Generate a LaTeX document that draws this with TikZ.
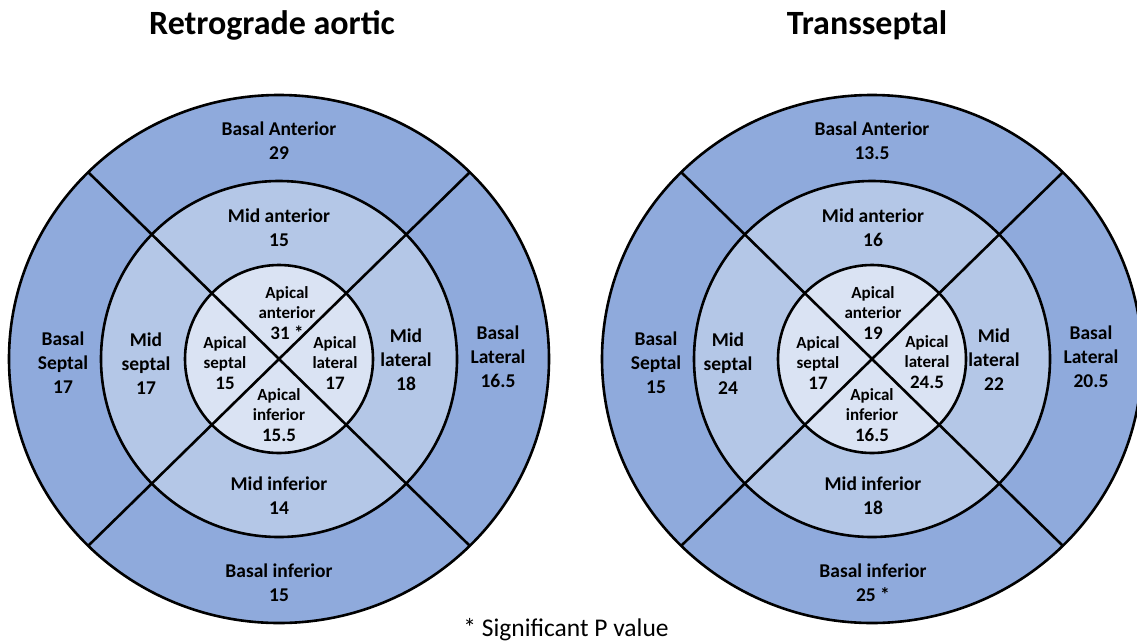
\documentclass[tikz,border=0pt]{standalone}
\usepackage{fontspec}
\usetikzlibrary{calc}
\setmainfont{Carlito}
\definecolor{ringout}{HTML}{8FAADC}
\definecolor{ringmid}{HTML}{B4C7E7}
\definecolor{ringin}{HTML}{DAE3F3}
\newcommand{\apnum}[1]{{\fontsize{19}{20.5}\selectfont #1}}
\begin{document}
\begin{tikzpicture}[x=1pt,y=-1pt,
  seg/.style={font=\bfseries\fontsize{19.5}{24}\selectfont, align=center, inner sep=0pt},
  apx/.style={font=\bfseries\fontsize{17}{20.5}\selectfont, align=center, inner sep=0pt},
  ttl/.style={font=\bfseries\fontsize{34}{38}\selectfont, inner sep=0pt},
  note/.style={font=\fontsize{25.5}{28}\selectfont, inner sep=0pt},
  ring/.style={draw=black, line width=2.6pt},
  divider/.style={draw=black, line width=2.6pt}]
\clip (0,0) rectangle (1137,643);
\fill[white] (0,0) rectangle (1137,643);

% ---------- left bullseye ----------
\coordinate (Lc) at (279,359);
\filldraw[ring, fill=ringout] (Lc) ellipse [x radius=270pt, y radius=264pt];
\filldraw[ring, fill=ringmid] (Lc) circle [radius=178pt];
\filldraw[ring, fill=ringin] (Lc) circle [radius=94pt];
\coordinate (Lul) at ($(Lc)+(-191,-187)$);
\coordinate (Lur) at ($(Lc)+(191,-187)$);
\coordinate (Lll) at ($(Lc)+(-191,187)$);
\coordinate (Llr) at ($(Lc)+(191,187)$);
\draw[divider] (Lul) -- (Llr);
\draw[divider] (Lur) -- (Lll);

\node[ttl] (Lttl) at (272,25) {Retrograde aortic};
\node[seg] (LbA) at (279,141) {Basal Anterior\\29};
\node[seg] (LmA) at (279,228) {Mid anterior\\15};
\node[apx] (LaA) at (287,313) {Apical\\anterior\\\apnum{31 *}};
\node[apx] (LaS) at (225,363) {Apical\\septal\\\apnum{15}};
\node[apx] (LaL) at (335,363) {Apical\\lateral\\\apnum{17}};
\node[apx] (LaI) at (279,415) {Apical\\inferior\\\apnum{15.5}};
\node[seg] (LmS) at (146,364) {Mid\\septal\\17};
\node[seg] (LmL) at (406,360) {Mid\\lateral\\18};
\node[seg] (LbS) at (63,363) {Basal\\Septal\\17};
\node[seg] (LbL) at (498,357) {Basal\\Lateral\\16.5};
\node[seg] (LmI) at (279,496) {Mid inferior\\14};
\node[seg] (LbI) at (279,583) {Basal inferior\\15};

% ---------- right bullseye ----------
\coordinate (Rc) at (872,359);
\filldraw[ring, fill=ringout] (Rc) ellipse [x radius=270pt, y radius=264pt];
\filldraw[ring, fill=ringmid] (Rc) circle [radius=178pt];
\filldraw[ring, fill=ringin] (Rc) circle [radius=94pt];
\coordinate (Rul) at ($(Rc)+(-191,-187)$);
\coordinate (Rur) at ($(Rc)+(191,-187)$);
\coordinate (Rll) at ($(Rc)+(-191,187)$);
\coordinate (Rlr) at ($(Rc)+(191,187)$);
\draw[divider] (Rul) -- (Rlr);
\draw[divider] (Rur) -- (Rll);

\node[ttl] (Rttl) at (867,25) {Transseptal};
\node[seg] (RbA) at (872,141) {Basal Anterior\\13.5};
\node[seg] (RmA) at (873,228) {Mid anterior\\16};
\node[apx] (RaA) at (873,313) {Apical\\anterior\\\apnum{19}};
\node[apx] (RaS) at (818,363) {Apical\\septal\\\apnum{17}};
\node[apx] (RaL) at (927,362) {Apical\\lateral\\\apnum{24.5}};
\node[apx] (RaI) at (872,415) {Apical\\inferior\\\apnum{16.5}};
\node[seg] (RmS) at (728,364) {Mid\\septal\\24};
\node[seg] (RmL) at (994,360) {Mid\\lateral\\22};
\node[seg] (RbS) at (656,363) {Basal\\Septal\\15};
\node[seg] (RbL) at (1091,357) {Basal\\Lateral\\20.5};
\node[seg] (RmI) at (873,496) {Mid inferior\\18};
\node[seg] (RbI) at (873,583) {Basal inferior\\25 *};

\node[note] (fn) at (566,630) {* Significant P value};
\end{tikzpicture}
\end{document}
